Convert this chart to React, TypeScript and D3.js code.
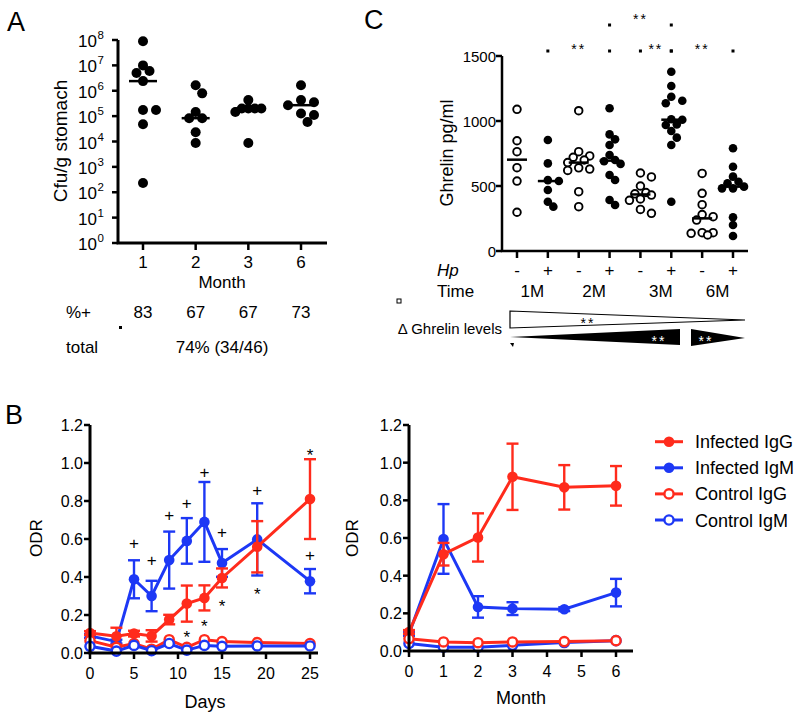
import React from 'react';
import * as d3 from 'd3';

const FONT = '"Liberation Sans", Arial, Helvetica, sans-serif';
const RED = '#ff2b1c';
const BLUE = '#1d38f5';

// ---------- Panel A data ----------
const cfuMonths = ['1', '2', '3', '6'];
const cfuMonth1 = [8.9e7, 1.0e7, 6.0e6, 5.0e6, 2.4e6, 1.75e5, 1.75e5, 4.8e4, 2.3e2];
const cfuMonth2 = [1.66e6, 7.9e5, 1.45e5, 8.3e4, 8.3e4, 2.3e4, 8.7e3];
const cfuMonth3 = [4.3e5, 2.0e5, 2.0e5, 2.0e5, 2.0e5, 1.45e5, 8.7e3];
const cfuMonth6 = [1.66e6, 4.3e5, 3.5e5, 2.7e5, 1.26e5, 1.1e5, 5.9e4];
const cfuPercent = ['83', '67', '67', '73'];
const cfuTotal = '74% (34/46)';
const cfuDecades = [0, 1, 2, 3, 4, 5, 6, 7, 8];

// ---------- Panel C data ----------
const ghrelinGroups = ['1M-', '1M+', '2M-', '2M+', '3M-', '3M+', '6M-', '6M+'];
const ghrelinHp = ['-', '+', '-', '+', '-', '+', '-', '+'];
const ghrelinTimes = ['1M', '2M', '3M', '6M'];
const ghrelin1Mneg = [1090, 848, 764, 641, 538, 298];
const ghrelin1Mpos = [854, 674, 545, 538, 469, 379, 341];
const ghrelin2Mneg = [1079, 764, 731, 721, 700, 680, 640, 630, 620, 456, 341];
const ghrelin2Mpos = [1098, 897, 859, 815, 738, 700, 690, 670, 585, 546, 392, 354];
const ghrelin3Mneg = [600, 570, 500, 450, 440, 430, 400, 390, 320, 290];
const ghrelin3Mpos = [1379, 1269, 1187, 1156, 1136, 1013, 1010, 974, 969, 923, 872, 815, 379];
const ghrelin6Mneg = [597, 444, 356, 280, 264, 238, 141, 141, 136, 123];
const ghrelin6Mpos = [790, 648, 572, 533, 521, 495, 482, 482, 259, 200, 115];
const ghrelinTicks = [0, 500, 1000, 1500];
// significance brackets: [from group, to group, level]
const ghrelinBrackets: [number, number, number][] = [[3, 5, 0], [1, 3, 1], [4, 5, 1], [5, 7, 1]];

// ---------- Panel B data (days) ----------
const days = [0, 3, 5, 7, 9, 11, 13, 15, 19, 25];
const dayInfIgG = [0.105, 0.088, 0.102, 0.09, 0.176, 0.26, 0.29, 0.395, 0.559, 0.81];
const dayInfIgGErr = [0.01, 0.045, 0.015, 0.03, 0.025, 0.095, 0.066, 0.05, 0.135, 0.21];
const dayInfIgM = [0.09, 0.06, 0.388, 0.30, 0.489, 0.59, 0.69, 0.474, 0.598, 0.378];
const dayInfIgMErr = [0.01, 0.01, 0.1, 0.08, 0.15, 0.12, 0.21, 0.073, 0.19, 0.064];
const dayCtlIgG = [0.065, 0.03, 0.05, 0.02, 0.07, 0.03, 0.07, 0.06, 0.055, 0.05];
const dayCtlIgM = [0.035, 0.01, 0.04, 0.012, 0.05, 0.015, 0.04, 0.035, 0.037, 0.037];
const dayPlus = [null, null, 0.577, 0.487, 0.726, 0.787, 0.953, 0.638, 0.858, 0.515];
const dayStar = [null, null, null, null, null, 0.104, 0.163, 0.269, 0.331, 1.062];
const dayTicks = [0, 5, 10, 15, 20, 25];
const odrTicks = [0, 0.2, 0.4, 0.6, 0.8, 1.0, 1.2];

// ---------- Panel B data (months) ----------
const months = [0, 1, 2, 3, 4.5, 6];
const monInfIgG = [0.101, 0.514, 0.603, 0.925, 0.869, 0.877];
const monInfIgGErr = [0.01, 0.06, 0.128, 0.176, 0.118, 0.105];
const monInfIgM = [0.09, 0.595, 0.234, 0.225, 0.222, 0.31];
const monInfIgMErr = [0.01, 0.185, 0.057, 0.034, 0.01, 0.073];
const monCtlIgG = [0.065, 0.048, 0.044, 0.048, 0.05, 0.055];
const monCtlIgM = [0.04, 0.02, 0.02, 0.03, 0.045, 0.055];
const monthTicks = [0, 1, 2, 3, 4, 5, 6];
const legendLabels = ['Infected IgG', 'Infected IgM', 'Control IgG', 'Control IgM'];

// deterministic compact scatter (GraphPad-like column scatter)
function swarm(vals: number[], yf: (v: number) => number, minDist: number, step: number, maxK: number) {
  const placed: { x: number; y: number }[] = [];
  const order = vals.map((_, i) => i).sort((a, b) => vals[b] - vals[a]);
  const out: { dx: number; y: number }[] = new Array(vals.length);
  for (const i of order) {
    const py = yf(vals[i]);
    let best = 0;
    let bestD = -1;
    for (let k = 0; k <= maxK * 2; k++) {
      const dx = k === 0 ? 0 : (k % 2 === 1 ? 1 : -1) * Math.ceil(k / 2) * step;
      const d = placed.length ? Math.min(...placed.map(p => Math.hypot(p.x - dx, p.y - py))) : Infinity;
      if (d >= minDist) { best = dx; bestD = d; break; }
      if (d > bestD) { bestD = d; best = dx; }
    }
    placed.push({ x: best, y: py });
    out[i] = { dx: best, y: py };
  }
  return out;
}

function PanelA() {
  const x = d3.scalePoint<string>().domain(cfuMonths).range([143, 301]);
  const y = d3.scaleLog().domain([1, 1e8]).range([243, 40]);
  const groups = [cfuMonth1, cfuMonth2, cfuMonth3, cfuMonth6];
  const r = 5;
  return (
    <g fontFamily={FONT}>
      <text x={7} y={31} fontSize={27}>A</text>
      {groups.map((vals, gi) => {
        const cx = x(cfuMonths[gi])!;
        const pts = swarm(vals, v => y(v), 8.5, 6.5, 2);
        const med = d3.median(vals)!;
        return (
          <g key={gi}>
            {pts.map((p, i) => <circle key={i} cx={cx + p.dx} cy={p.y} r={r} fill="#000" />)}
            <line x1={cx - 14} x2={cx + 14} y1={y(med)} y2={y(med)} stroke="#000" strokeWidth={2.5} />
          </g>
        );
      })}
      <path d={`M118,40 V243 H327`} fill="none" stroke="#000" strokeWidth={3} />
      {cfuDecades.map(d => (
        <g key={d}>
          <line x1={112} x2={118} y1={y(Math.pow(10, d))} y2={y(Math.pow(10, d))} stroke="#000" strokeWidth={2.5} />
          <text x={97} y={y(Math.pow(10, d)) + 7} fontSize={17} textAnchor="end">10</text>
          <text x={97.5} y={y(Math.pow(10, d)) - 1} fontSize={11.5}>{d}</text>
        </g>
      ))}
      {cfuMonths.map(m => (
        <g key={m}>
          <line x1={x(m)} x2={x(m)} y1={243} y2={250} stroke="#000" strokeWidth={2.5} />
          <text x={x(m)} y={268} fontSize={17} textAnchor="middle">{m}</text>
        </g>
      ))}
      <text x={222} y={288} fontSize={17} textAnchor="middle">Month</text>
      <text transform="translate(67,141) rotate(-90)" fontSize={19} textAnchor="middle">Cfu/g stomach</text>
      <text x={66} y={318} fontSize={17}>%+</text>
      {cfuPercent.map((p, i) => (
        <text key={i} x={x(cfuMonths[i])} y={318} fontSize={17} textAnchor="middle">{p}</text>
      ))}
      <rect x={119} y={326} width={3} height={3} fill="#000" />
      <text x={66} y={353} fontSize={17}>total</text>
      <text x={222} y={353} fontSize={17} textAnchor="middle">{cfuTotal}</text>
    </g>
  );
}

function PanelC() {
  const x = d3.scalePoint<string>().domain(ghrelinGroups).range([517, 733]);
  const y = d3.scaleLinear().domain([0, 1500]).range([251, 56]);
  const groups = [ghrelin1Mneg, ghrelin1Mpos, ghrelin2Mneg, ghrelin2Mpos, ghrelin3Mneg, ghrelin3Mpos, ghrelin6Mneg, ghrelin6Mpos];
  const r = 4.3;
  const xi = (i: number) => x(ghrelinGroups[i])!;
  const levelY = [25, 51];
  const starY = [24, 54];
  return (
    <g fontFamily={FONT}>
      <text x={364} y={29} fontSize={27}>C</text>
      {groups.map((vals, gi) => {
        const cx = xi(gi);
        const open = gi % 2 === 0;
        const pts = swarm(vals, v => y(v), 7, 5.5, 2);
        const med = d3.median(vals)!;
        return (
          <g key={gi}>
            {pts.map((p, i) => open
              ? <circle key={i} cx={cx + p.dx} cy={p.y} r={r - 0.5} fill="#fff" stroke="#000" strokeWidth={1.9} />
              : <circle key={i} cx={cx + p.dx} cy={p.y} r={r} fill="#000" />)}
            <line x1={cx - 10} x2={cx + 10} y1={y(med)} y2={y(med)} stroke="#000" strokeWidth={2.5} />
          </g>
        );
      })}
      <path d={`M502,56 V251 H748`} fill="none" stroke="#000" strokeWidth={2.5} />
      {ghrelinTicks.map(t => (
        <g key={t}>
          <line x1={496} x2={502} y1={y(t)} y2={y(t)} stroke="#000" strokeWidth={2.5} />
          <text x={496} y={y(t) + 5.5} fontSize={15} textAnchor="end">{t}</text>
        </g>
      ))}
      {ghrelinGroups.map((g, i) => (
        <g key={g}>
          <line x1={xi(i)} x2={xi(i)} y1={251} y2={258} stroke="#000" strokeWidth={2.5} />
          <text x={xi(i)} y={276} fontSize={17} textAnchor="middle">{ghrelinHp[i]}</text>
        </g>
      ))}
      {ghrelinTimes.map((t, i) => (
        <text key={t} x={(xi(2 * i) + xi(2 * i + 1)) / 2 + (i === 2 ? 5 : 0)} y={297} fontSize={17} textAnchor="middle">{t}</text>
      ))}
      <text x={437} y={276} fontSize={17} fontStyle="italic">Hp</text>
      <text x={437} y={297} fontSize={17}>Time</text>
      <text transform="translate(453,153) rotate(-90)" fontSize={18} textAnchor="middle">Ghrelin pg/ml</text>
      {ghrelinBrackets.map(([a, b, lv], i) => (
        <g key={i}>
          <rect x={xi(a) - 1.5} y={levelY[lv] - 1.5} width={3} height={3} fill="#000" />
          <rect x={xi(b) - 1.5} y={levelY[lv] - 1.5} width={3} height={3} fill="#000" />
          <text x={(xi(a) + xi(b)) / 2} y={starY[lv]} fontSize={14} textAnchor="middle" letterSpacing={2}>**</text>
        </g>
      ))}
      {/* delta ghrelin triangles */}
      <rect x={397} y={299} width={4} height={4} fill="#fff" stroke="#000" strokeWidth={1} />
      <text x={502} y={334} fontSize={15} textAnchor="end">Δ Ghrelin levels</text>
      <path d="M510,311 L745,320 L510,328 Z" fill="#fff" stroke="#000" strokeWidth={1.2} />
      <text x={588} y={328} fontSize={14} textAnchor="middle" letterSpacing={2}>**</text>
      <path d="M510,337 L680,329 L680,345 Z" fill="#000" />
      <text x={659} y={346} fontSize={14} textAnchor="middle" fill="#fff" letterSpacing={2}>**</text>
      <path d="M691,329 L745,338 L691,346 Z" fill="#000" />
      <text x={706} y={346} fontSize={14} textAnchor="middle" fill="#fff" letterSpacing={2}>**</text>
      <path d="M510,343 L514,343 L513,347 Z" fill="#000" />
    </g>
  );
}

type Series = { vals: number[]; err?: number[]; color: string; open: boolean };

function LinePanel({ xs, series, xScale, yScale, xEnd, xTicks }: {
  xs: number[]; series: Series[]; xScale: d3.ScaleLinear<number, number>; yScale: d3.ScaleLinear<number, number>; xEnd: number; xTicks: number[];
}) {
  const x0 = xScale(0);
  const y0 = yScale(0);
  const yTop = yScale(1.2);
  return (
    <g fontFamily={FONT}>
      {series.map((s, si) => {
        const line = d3.line<number>().x((_, i) => xScale(xs[i])).y(v => yScale(v));
        return (
          <g key={si}>
            {s.err && s.vals.map((v, i) => {
              const cx = xScale(xs[i]);
              const hi = yScale(v + s.err![i]);
              const lo = yScale(Math.max(0, v - s.err![i]));
              return (
                <g key={i} stroke={s.color} strokeWidth={2.4}>
                  <line x1={cx} x2={cx} y1={hi} y2={lo} />
                  <line x1={cx - 6} x2={cx + 6} y1={hi} y2={hi} />
                  <line x1={cx - 6} x2={cx + 6} y1={lo} y2={lo} />
                </g>
              );
            })}
            <path d={line(s.vals)!} fill="none" stroke={s.color} strokeWidth={3} />
            {s.vals.map((v, i) => s.open
              ? <circle key={i} cx={xScale(xs[i])} cy={yScale(v)} r={4.6} fill="#fff" stroke={s.color} strokeWidth={2.4} />
              : <circle key={i} cx={xScale(xs[i])} cy={yScale(v)} r={5.3} fill={s.color} />)}
          </g>
        );
      })}
      <path d={`M${x0},${yTop} V${y0} H${xEnd}`} fill="none" stroke="#000" strokeWidth={3} />
      {odrTicks.map(t => (
        <g key={t}>
          <line x1={x0 - 6} x2={x0} y1={yScale(t)} y2={yScale(t)} stroke="#000" strokeWidth={2.5} />
          <text x={x0 - 7} y={yScale(t) + 6} fontSize={16} textAnchor="end">{t.toFixed(1)}</text>
        </g>
      ))}
      {xTicks.map(t => (
        <g key={t}>
          <line x1={xScale(t)} x2={xScale(t)} y1={y0} y2={y0 + 6} stroke="#000" strokeWidth={2.5} />
          <text x={xScale(t)} y={y0 + 26} fontSize={16} textAnchor="middle">{t}</text>
        </g>
      ))}
    </g>
  );
}

function PanelB() {
  const xD = d3.scaleLinear().domain([0, 25]).range([90, 310]);
  const yD = d3.scaleLinear().domain([0, 1.2]).range([653, 425]);
  const xM = d3.scaleLinear().domain([0, 6]).range([409, 616]);
  const yM = d3.scaleLinear().domain([0, 1.2]).range([651, 425]);
  const left: Series[] = [
    { vals: dayInfIgM, err: dayInfIgMErr, color: BLUE, open: false },
    { vals: dayInfIgG, err: dayInfIgGErr, color: RED, open: false },
    { vals: dayCtlIgG, color: RED, open: true },
    { vals: dayCtlIgM, color: BLUE, open: true },
  ];
  const right: Series[] = [
    { vals: monInfIgM, err: monInfIgMErr, color: BLUE, open: false },
    { vals: monInfIgG, err: monInfIgGErr, color: RED, open: false },
    { vals: monCtlIgM, color: BLUE, open: true },
    { vals: monCtlIgG, color: RED, open: true },
  ];
  const legendColors = [RED, BLUE, RED, BLUE];
  const legendOpen = [false, false, true, true];
  return (
    <g fontFamily={FONT}>
      <text x={5} y={424} fontSize={27}>B</text>
      <LinePanel xs={days} series={left} xScale={xD} yScale={yD} xEnd={318} xTicks={dayTicks} />
      {dayPlus.map((v, i) => v === null ? null : (
        <text key={'p' + i} x={xD(days[i])} y={yD(v) + 6} fontSize={17} textAnchor="middle">+</text>
      ))}
      {dayStar.map((v, i) => v === null ? null : (
        <text key={'s' + i} x={xD(days[i])} y={yD(v) + 10} fontSize={17} textAnchor="middle">*</text>
      ))}
      <text x={205} y={708} fontSize={18} textAnchor="middle">Days</text>
      <text transform="translate(42,538) rotate(-90)" fontSize={17} textAnchor="middle">ODR</text>

      <LinePanel xs={months} series={right} xScale={xM} yScale={yM} xEnd={633} xTicks={monthTicks} />
      <text x={521} y={704} fontSize={18} textAnchor="middle">Month</text>
      <text transform="translate(358,538) rotate(-90)" fontSize={17} textAnchor="middle">ODR</text>

      {legendLabels.map((l, i) => {
        const ly = 441.7 + i * 26.1;
        return (
          <g key={l}>
            <line x1={655} x2={683} y1={ly} y2={ly} stroke={legendColors[i]} strokeWidth={3} />
            {legendOpen[i]
              ? <circle cx={669} cy={ly} r={4.6} fill="#fff" stroke={legendColors[i]} strokeWidth={2.4} />
              : <circle cx={669} cy={ly} r={5.3} fill={legendColors[i]} />}
            <text x={695} y={ly + 6.5} fontSize={18}>{l}</text>
          </g>
        );
      })}
    </g>
  );
}

export default function App() {
  return (
    <svg width={800} height={718} viewBox="0 0 800 718"
      style={{ position: 'absolute', left: 0, top: 0, background: '#fff' }}>
      <rect width={800} height={718} fill="#fff" />
      <PanelA />
      <PanelC />
      <PanelB />
    </svg>
  );
}
